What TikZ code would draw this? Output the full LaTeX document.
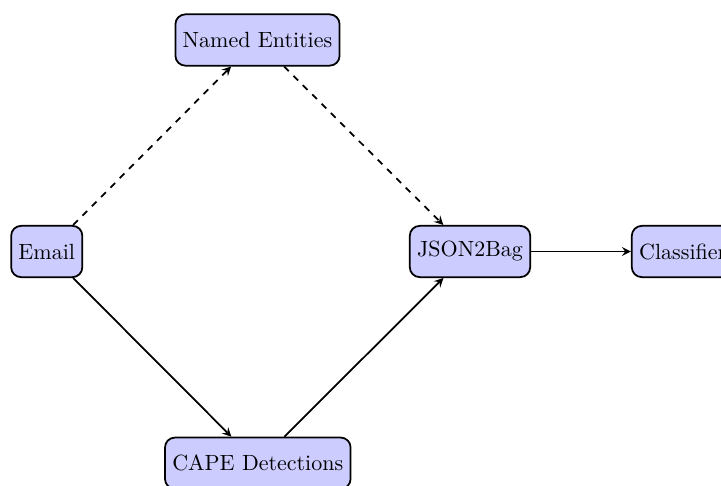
\documentclass[tikz,border=0pt]{standalone}
\usetikzlibrary{arrows}
\begin{document}
\begin{tikzpicture}[x=0.4545pt,y=-0.4545pt,
  box/.style={draw=black,thick,fill=blue!20,rounded corners=4.5pt,minimum height=23.3pt,inner sep=3.33pt,font=\normalsize},
  conn/.style={thick,-stealth}]
\useasboundingbox (0,0) rectangle (721,486);
\clip (0,0) rectangle (721,486);
\node[box] (email) at (46.75,251.5) {Email};
\node[box] (ne) at (257.5,40) {Named Entities};
\node[box] (cape) at (257.8,463.2) {CAPE Detections};
\node[box] (json) at (470,251.5) {JSON2Bag};
\node[box] (cls) at (682.7,251.5) {Classifier};
\draw[conn,dashed] (email) -- (ne);
\draw[conn,dashed] (ne) -- (json);
\draw[conn] (email) -- (cape);
\draw[conn] (cape) -- (json);
\draw[conn] (json) -- (cls);
\end{tikzpicture}
\end{document}
